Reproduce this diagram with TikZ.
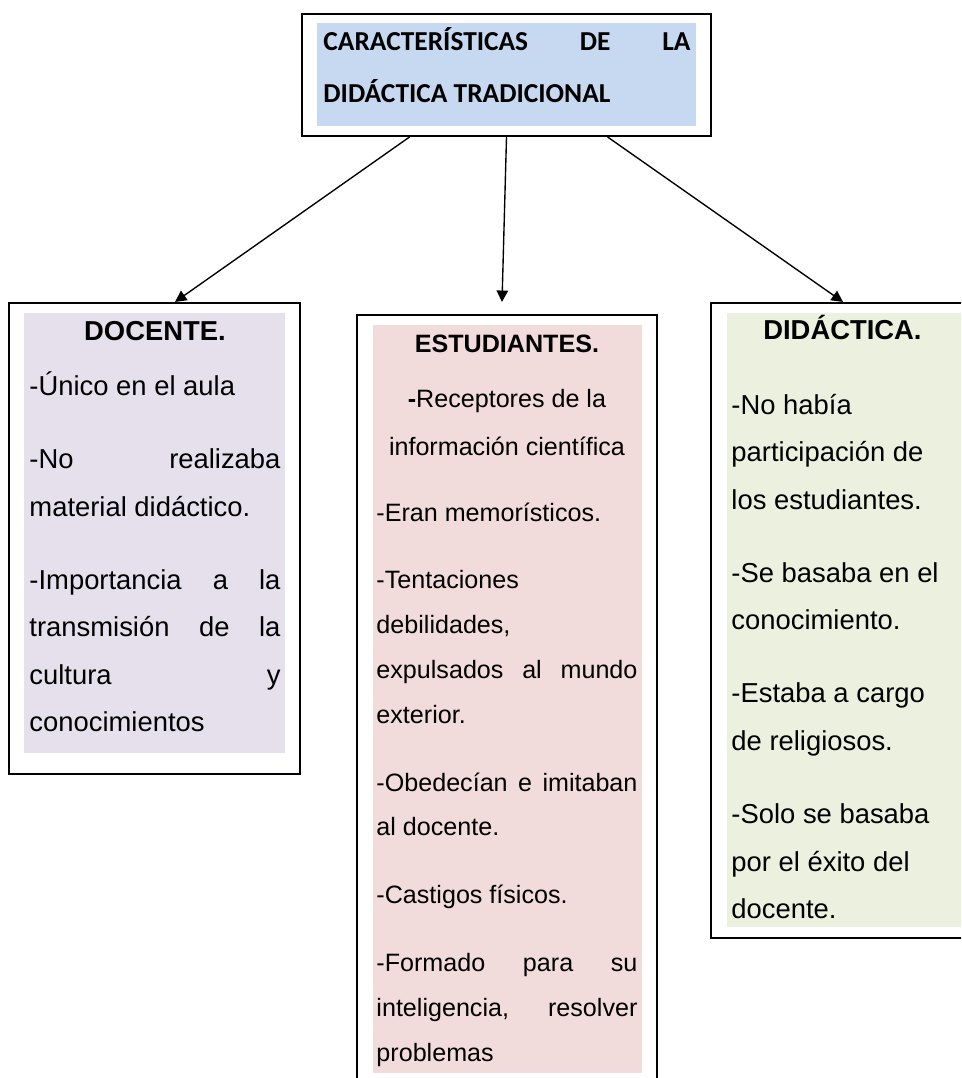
\documentclass[tikz,border=0pt]{standalone}
\usepackage{fontspec}
\setmainfont{Liberation Sans}
\newfontfamily\titlefont{Carlito}
\usetikzlibrary{arrows.meta,calc}
\setlength{\parindent}{0pt}
\tolerance=9999
\hbadness=10000

\definecolor{titleblue}{HTML}{C6D9F1}
\definecolor{docpurple}{HTML}{E5E0EC}
\definecolor{estpink}{HTML}{F2DCDB}
\definecolor{didgreen}{HTML}{EBF1DE}

\def \px {0.438pt}
\def \boxWd {0.9pt}

\begin{document}
\begin{tikzpicture}[x=\px, y=-\px,
      box/.style={draw, line width=\boxWd, inner sep=0pt},
      band/.style={fill=#1, inner sep=0pt},
      txt/.style={inner sep=0pt, anchor=north west, align=justify},
      arr/.style={-{Triangle[length=5pt,width=5pt]}, line width=0.6pt}]

      \clip (0,0) rectangle (961,1078);

      % title
      \node[box, minimum width=409*\px, minimum height=122*\px] (titlebox) at (506.5,75) {};
      \node[band=titleblue, minimum width=379*\px, minimum height=103*\px] (titleband) at (506.5,74.5) {};
      \node[txt, text width=367*\px] (title) at (323,13.6)
         {\titlefont\bfseries\fontsize{12}{22.8}\selectfont\strut CARACTERÍSTICAS DE LA\linebreak DIDÁCTICA TRADICIONAL\par};

      % docente
      \node[box, minimum width=291*\px, minimum height=471*\px] (docbox) at (154.5,538.5) {};
      \node[band=docpurple, minimum width=261*\px, minimum height=440*\px] (docband) at (154.5,533) {};
      \node[txt, text width=251*\px] (doctext) at (29,306.8) {\fontsize{12}{20.8}\selectfont
         \strut\makebox[\hsize]{\bfseries DOCENTE.}\\[3.3pt]
         -Único en el aula\\[11.2pt]
         -No realizaba\linebreak material didáctico.\\[11.2pt]
         -Importancia a la\linebreak transmisión de la\linebreak cultura y\linebreak conocimientos\par};

      % estudiantes
      \node[box, minimum width=300*\px, minimum height=780*\px] (estbox) at (507,705) {};
      \node[band=estpink, minimum width=269*\px, minimum height=748*\px] (estband) at (507.5,699) {};
      \node[txt, text width=261*\px] (esttext) at (376,320.5) {\fontsize{11}{19.7}\selectfont
         \strut\makebox[\hsize]{\bfseries ESTUDIANTES.}\\[4.4pt]
         \makebox[\hsize]{\textbf{-}Receptores de la}\\[1.3pt]
         \makebox[\hsize]{información científica}\\[9.4pt]
         -Eran memorísticos.\\[9.4pt]
         -Tentaciones\linebreak debilidades,\linebreak expulsados al mundo\linebreak exterior.\\[10pt]
         -Obedecían e imitaban\linebreak al docente.\\[10pt]
         -Castigos físicos.\\[10pt]
         -Formado para su\linebreak inteligencia, resolver\linebreak problemas\par};

      % didactica
      \node[box, minimum width=264*\px, minimum height=635*\px] (didbox) at (843,620.5) {};
      \node[band=didgreen, minimum width=243*\px, minimum height=614*\px] (didband) at (848.5,620) {};
      \node[txt, align=left, text width=222*\px] (didtext) at (731,305.8) {\fontsize{12}{20.8}\selectfont
         \strut\makebox[\hsize]{\bfseries DIDÁCTICA.}\\[12pt]
         -No había\\ participación de\\ los estudiantes.\\[11.2pt]
         -Se basaba en el\\ conocimiento.\\[11.2pt]
         -Estaba a cargo\\ de religiosos.\\[11.2pt]
         -Solo se basaba\\ por el éxito del\\ docente.\par};

      \draw[arr] ($(titlebox.south west)!0.264!(titlebox.south east)$) -- ([xshift=20.5*\px]docbox.north);
      \draw[arr] (titlebox.south) -- ([xshift=-5*\px, yshift=12*\px]estbox.north);
      \draw[arr] ($(titlebox.south west)!0.746!(titlebox.south east)$) -- (didbox.north);

\end{tikzpicture}
\end{document}
